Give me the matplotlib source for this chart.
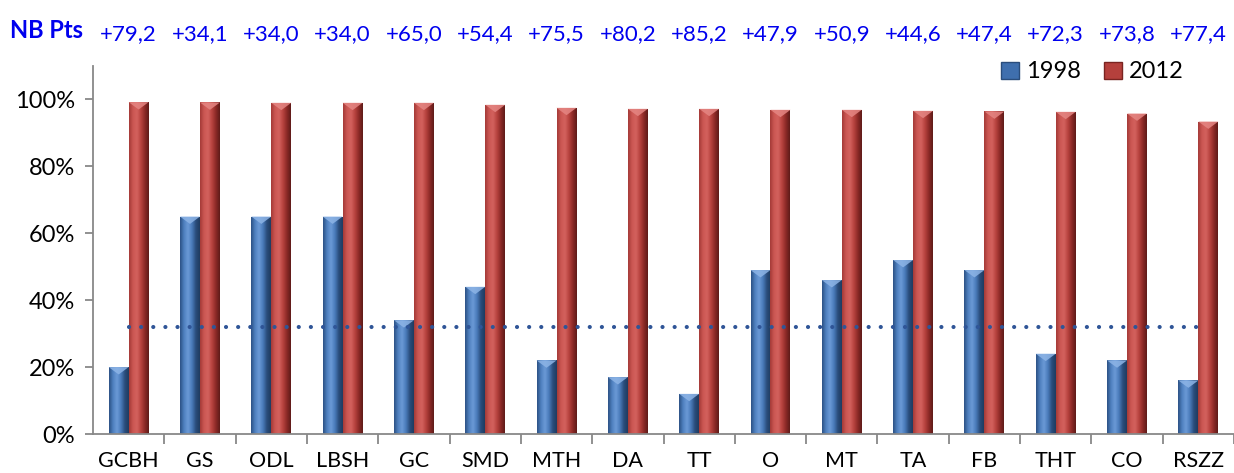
import numpy as np
import matplotlib
matplotlib.use("Agg")
import matplotlib.pyplot as plt
from matplotlib.patches import Rectangle, Polygon, Patch
from matplotlib.colors import LinearSegmentedColormap

plt.rcParams['font.family'] = ['Lato', 'DejaVu Sans']

categories = ["GCBH", "GS", "ODL", "LBSH", "GC", "SMD", "MTH", "DA",
              "TT", "O", "MT", "TA", "FB", "THT", "CO", "RSZZ"]
values_1998 = [20.0, 65.0, 65.0, 65.0, 34.0, 44.0, 22.0, 17.0,
               12.0, 49.0, 46.0, 52.0, 49.0, 24.0, 22.0, 16.0]
values_2012 = [99.2, 99.1, 99.0, 99.0, 99.0, 98.4, 97.5, 97.2,
               97.2, 96.9, 96.9, 96.6, 96.4, 96.3, 95.8, 93.4]
reference_level = 32.0
series_names = ["1998", "2012"]
y_ticks = [0, 20, 40, 60, 80, 100]

W, H = 1234, 473
fig = plt.figure(figsize=(W / 100, H / 100), dpi=100)
ax_left, ax_bottom, ax_top = 93, 434, 66
ax = fig.add_axes([ax_left / W, (H - ax_bottom) / H, 1 - ax_left / W,
                   (ax_bottom - ax_top) / H])

n = len(categories)
x = np.arange(n)
xmax = -0.5 + (W - ax_left) / 72.1
ymax = 110

blue_cmap = LinearSegmentedColormap.from_list(
    "b", ["#2c5184", "#4f81c0", "#6b9ad6", "#4a7bbb", "#2a4d7c", "#1f3b60"])
red_cmap = LinearSegmentedColormap.from_list(
    "r", ["#a43a37", "#cc5753", "#d3625e", "#b8433f", "#8c2a27", "#5e1b19"])
grad = np.linspace(0, 1, 64).reshape(1, -1)

bar_w = 0.28


def cylinder_bar(xc, h, cmap, top_color):
    x0, x1 = xc - bar_w / 2, xc + bar_w / 2
    rect = Rectangle((x0, 0), bar_w, h, facecolor="none", edgecolor="none")
    ax.add_patch(rect)
    im = ax.imshow(grad, cmap=cmap, extent=[x0, x1, 0, h], aspect="auto",
                   interpolation="bicubic", zorder=2)
    im.set_clip_path(rect)
    # beveled top
    d = 2.2
    tri = Polygon([[x0, h], [x1, h], [xc, h - d]], closed=True,
                  facecolor=top_color, edgecolor="none", alpha=0.85, zorder=3)
    ax.add_patch(tri)


for i in range(n):
    cylinder_bar(x[i] - bar_w / 2, values_1998[i], blue_cmap, "#8db4e6")
    cylinder_bar(x[i] + bar_w / 2, values_2012[i], red_cmap, "#e58683")

ax.plot([x[0], x[-1]], [reference_level] * 2, color="#2f5597", lw=3.0,
        linestyle=(0, (0.01, 2.9)), dash_capstyle="round", zorder=4)

ax.set_xlim(-0.5, xmax)
ax.set_ylim(0, ymax)

for s in ["top", "right"]:
    ax.spines[s].set_visible(False)
for s in ["left", "bottom"]:
    ax.spines[s].set_color("#888888")
    ax.spines[s].set_linewidth(1.3)

ax.set_yticks(y_ticks)
ax.set_yticklabels([f"{v}%" for v in y_ticks], fontsize=17)
ax.tick_params(axis="y", length=6, width=1.3, color="#888888", pad=7)
ax.set_xticks(x)
ax.set_xticklabels(categories, fontsize=15.5)
ax.tick_params(axis="x", which="major", length=0, pad=12)
ax.set_xticks(np.arange(n) + 0.5, minor=True)
ax.tick_params(axis="x", which="minor", length=7, width=1.3, color="#888888")

# point gains above each category
fig.text(10 / W, 1 - 30 / H, "NB Pts", color="#0000ee", fontsize=17,
         fontweight="bold", va="center", ha="left")
for i in range(n):
    gain = values_2012[i] - values_1998[i]
    label = "+" + f"{gain:.1f}".replace(".", ",")
    xf = ax.transData.transform((x[i], 0))[0]
    fig.text(xf / W, 1 - 34 / H, label, color="#0000ee", fontsize=16,
             ha="center", va="center")

handles = [Patch(facecolor="#3f6fae", edgecolor="#2a4d7c"),
           Patch(facecolor="#b5403c", edgecolor="#7a2421")]
fig.legend(handles, series_names, loc="center left",
           bbox_to_anchor=(1001 / W, 1 - 72 / H), ncol=2, frameon=False,
           fontsize=17, handlelength=0.75, handleheight=0.75,
           handletextpad=0.3, columnspacing=1.0, borderaxespad=0,
           borderpad=0)

fig.savefig("out.png", dpi=100)
